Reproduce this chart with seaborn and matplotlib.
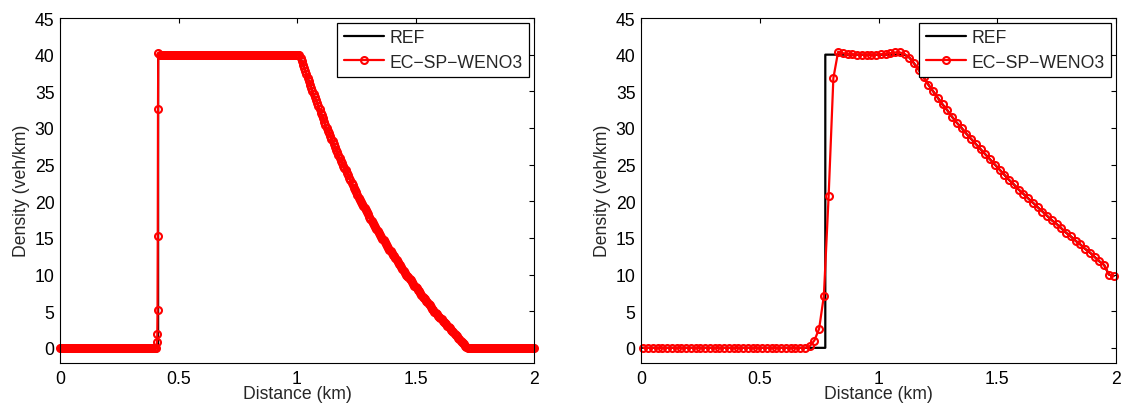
import numpy as np
import pandas as pd
import matplotlib
matplotlib.use("Agg")
import matplotlib.pyplot as plt
import seaborn as sns

# === Left panel (fine grid, dx = 0.005) ===
left_shock_x = [0.4095, 0.4105, 0.4115, 0.4125, 0.4135, 0.4145]
left_shock_rho = [0.8, 1.9, 5.2, 15.3, 32.6, 40.2]
left_ref_shock = 0.414
left_plateau = 40.0
# rarefaction part, x = 1.010 ... 1.720 step 0.005
left_fan_rho = [40.0, 39.55, 39.1, 38.65, 38.2, 37.75, 37.3, 36.85, 36.4, 35.9,
                35.4, 35.0, 34.6, 34.2, 33.8, 33.4, 33.0, 32.55, 32.1, 31.7,
                31.3, 30.85, 30.4, 30.0, 29.6, 29.25, 28.9, 28.55, 28.2, 27.8,
                27.4, 27.05, 26.7, 26.3, 25.9, 25.55, 25.2, 24.85, 24.5, 24.2,
                23.9, 23.55, 23.2, 22.85, 22.5, 22.15, 21.8, 21.5, 21.2, 20.85,
                20.5, 20.2, 19.9, 19.6, 19.3, 19.05, 18.8, 18.5, 18.2, 17.9,
                17.6, 17.35, 17.1, 16.8, 16.5, 16.25, 16.0, 15.7, 15.4, 15.15,
                14.9, 14.65, 14.4, 14.15, 13.9, 13.65, 13.4, 13.15, 12.9, 12.7,
                12.5, 12.25, 12.0, 11.75, 11.5, 11.25, 11.0, 10.75, 10.5, 10.25,
                10.0, 9.8, 9.6, 9.4, 9.2, 8.95, 8.7, 8.5, 8.3, 8.1,
                7.9, 7.7, 7.5, 7.25, 7.0, 6.8, 6.6, 6.4, 6.2, 6.0,
                5.8, 5.55, 5.3, 5.1, 4.9, 4.75, 4.6, 4.4, 4.2, 4.05,
                3.9, 3.7, 3.5, 3.35, 3.2, 3.0, 2.8, 2.65, 2.5, 2.3,
                2.1, 1.9, 1.7, 1.55, 1.4, 1.2, 1.0, 0.85, 0.7, 0.5,
                0.3, 0.15, 0.0]

# === Right panel (100 cells, centres 0.01 ... 1.99) ===
right_x = np.linspace(0.01, 1.99, 100)
right_rho = [0.0] * 35 + [
    0.2, 1.0, 2.6, 7.1, 20.7, 36.8, 40.4,
    40.2, 40.1, 40.05, 40.0, 40.0, 40.0, 40.0, 40.0, 40.05, 40.1, 40.2, 40.3, 40.3,
    40.1, 39.6, 38.8, 37.9, 36.9, 35.9, 35.0, 34.1, 33.2, 32.4,
    31.5, 30.7, 30.0, 29.2, 28.5, 27.8, 27.1, 26.4, 25.7, 25.0,
    24.3, 23.6, 22.9, 22.3, 21.6, 21.0, 20.4, 19.8, 19.2, 18.6,
    18.0, 17.4, 16.9, 16.3, 15.7, 15.2, 14.6, 14.1, 13.5, 13.0,
    12.4, 11.8, 11.3, 10.0, 9.8]
right_ref_shock = 0.776
right_ref_head = 1.11

xticks = [0, 0.5, 1, 1.5, 2]
xtick_labels = ["0", "0.5", "1", "1.5", "2"]
yticks = list(range(0, 46, 5))

# --- build series ---
fan_x = np.linspace(1.01, 1.72, len(left_fan_rho))
left_x = np.concatenate([np.linspace(0, 0.405, 82), left_shock_x,
                         np.linspace(0.42, 1.005, 118), fan_x,
                         np.linspace(1.725, 2.00, 56)])
left_rho = np.concatenate([np.zeros(82), left_shock_rho,
                           np.full(118, left_plateau), left_fan_rho,
                           np.zeros(56)])
left_ref_x = np.concatenate([[0, left_ref_shock, left_ref_shock], fan_x, [2.0]])
left_ref_rho = np.concatenate([[0, 0, left_plateau], left_fan_rho, [0]])

right_rho = np.array(right_rho)
tail = right_x > right_ref_head + 0.005
right_ref_x = np.concatenate([[0, right_ref_shock, right_ref_shock, right_ref_head], right_x[tail]])
right_ref_rho = np.concatenate([[0, 0, left_plateau, left_plateau], right_rho[tail]])

sns.set_style("white")
plt.rcParams['font.family'] = ['Liberation Sans', 'DejaVu Sans']
fs = 12.7

fig = plt.figure(figsize=(11.22, 4.06), dpi=100)
ax1 = fig.add_axes([60 / 1122, 1 - 363.5 / 406, 474 / 1122, 344.5 / 406])
ax2 = fig.add_axes([641 / 1122, 1 - 363.5 / 406, 475 / 1122, 344.5 / 406])

panels = [(ax1, left_ref_x, left_ref_rho, left_x, left_rho),
          (ax2, right_ref_x, right_ref_rho, right_x, right_rho)]

for ax, rx, ry, sx, sy in panels:
    sns.lineplot(x=rx, y=ry, ax=ax, sort=False, estimator=None,
                 color="black", linewidth=1.6, label="REF")
    sns.lineplot(x=sx, y=sy, ax=ax, sort=False, estimator=None,
                 color="red", linewidth=1.6, marker="o", markersize=5,
                 markerfacecolor="none", markeredgecolor="red",
                 markeredgewidth=1.5, label="EC\u2212SP\u2212WENO3", clip_on=False)
    ax.set_xlim(0, 2)
    ax.set_ylim(-2, 45)
    ax.set_xticks(xticks)
    ax.set_xticklabels(xtick_labels)
    ax.set_yticks(yticks)
    ax.set_xlabel("Distance (km)", fontsize=fs, labelpad=-1.5)
    ax.set_ylabel("Density (veh/km)", fontsize=fs, labelpad=3)
    ax.tick_params(direction="in", length=3.5, width=0.8, top=True, right=True,
                   labelsize=fs, colors="black", pad=4)
    ax.tick_params(axis="x", pad=5.5)
    for s in ax.spines.values():
        s.set_visible(True)
        s.set_color("black")
        s.set_linewidth(0.8)
    leg = ax.legend(loc="upper right", fancybox=False, framealpha=1,
                    edgecolor="black", borderaxespad=0.3, handlelength=2.3,
                    handletextpad=0.3, borderpad=0.35, labelspacing=0.4,
                    fontsize=fs)
    leg.get_frame().set_linewidth(0.9)

fig.savefig("out.png", dpi=100)
